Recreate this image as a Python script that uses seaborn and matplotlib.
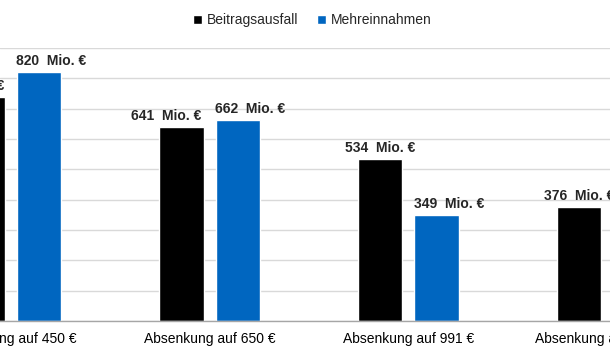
import pandas as pd
import seaborn as sns
from matplotlib import pyplot as plt

# chart data (values in Mio. €)
groups = ['Absenkung auf 450 €', 'Absenkung auf 650 €',
          'Absenkung auf 991 €', 'Absenkung auf 1.250 €']
series = ['Beitragsausfall', 'Mehreinnahmen']
beitragsausfall = [738, 641, 534, 376]
mehreinnahmen = [820, 662, 349, 200]

colors = {'Beitragsausfall': '#000000', 'Mehreinnahmen': '#0066C0'}
# manual label shifts in pixels (labels are hand-placed in the original)
shift_black = [-14, -15, 0, 0]
shift_blue = [12, 12, 13, 13]

rows = []
for g, a, b in zip(groups, beitragsausfall, mehreinnahmen):
    rows.append({'gruppe': g, 'serie': series[0], 'wert': a})
    rows.append({'gruppe': g, 'serie': series[1], 'wert': b})
df = pd.DataFrame(rows)

sns.set_theme(style='white')
plt.rcParams['font.family'] = ['Liberation Sans', 'DejaVu Sans']

fig = plt.figure(figsize=(6.1, 3.58), dpi=100)
ax = fig.add_axes([0, 0.1034, 1, 0.7626])

sns.barplot(data=df, x='gruppe', y='wert', hue='serie', palette=colors,
            width=0.568, gap=0.21, saturation=1, ax=ax, legend=True)

ax.set_xlim(-0.055, 3.015)
ax.set_ylim(0, 900)
ax.set_yticks(range(0, 901, 100))
ax.yaxis.grid(True, color='#d9d9d9', linewidth=1)
ax.set_axisbelow(True)
ax.set_yticklabels([])
ax.tick_params(axis='y', length=0)
ax.tick_params(axis='x', length=0, labelsize=10, pad=8, colors='#000000')
ax.set_xlabel('')
ax.set_ylabel('')
for side in ['left', 'right', 'top']:
    ax.spines[side].set_visible(False)
ax.spines['bottom'].set_color('#a6a6a6')
ax.spines['bottom'].set_linewidth(1)

px = 0.72
for i in range(len(groups)):
    ax.annotate(f'{beitragsausfall[i]}  Mio. €', (i - 0.142, beitragsausfall[i]),
                xytext=(shift_black[i] * px, 7 * px), textcoords='offset points',
                ha='center', va='baseline', fontsize=10, fontweight='bold',
                annotation_clip=False)
    ax.annotate(f'{mehreinnahmen[i]}  Mio. €', (i + 0.142, mehreinnahmen[i]),
                xytext=(shift_blue[i] * px, 7 * px), textcoords='offset points',
                ha='center', va='baseline', fontsize=10, fontweight='bold',
                annotation_clip=False)

handles, labels = ax.get_legend_handles_labels()
ax.get_legend().remove()
fig.legend(handles, labels, loc='center', bbox_to_anchor=(0.512, 0.944),
           ncol=2, frameon=False, fontsize=10, handlelength=0.6,
           handleheight=0.6, handletextpad=0.35, columnspacing=1.4)

fig.savefig('out.png', dpi=100)
